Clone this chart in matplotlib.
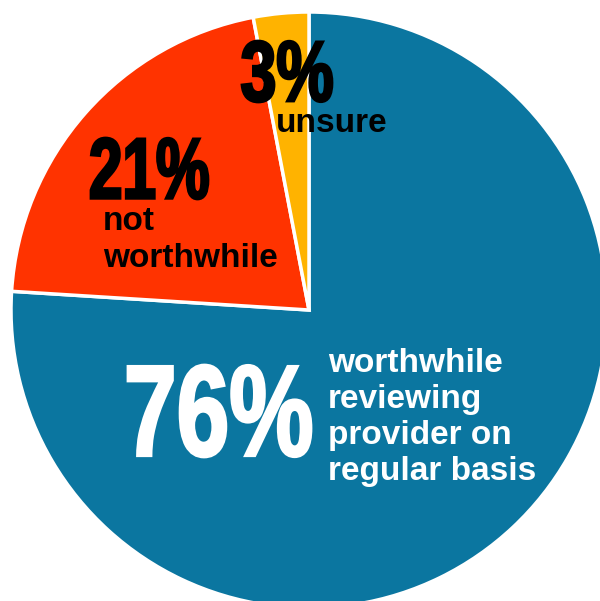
import matplotlib.pyplot as plt
from matplotlib.textpath import TextPath
from matplotlib.patches import PathPatch
from matplotlib.font_manager import FontProperties
from matplotlib.transforms import Affine2D

# Survey answers (percent)
shares = [76, 21, 3]
answers = ["worthwhile\nreviewing\nprovider on\nregular basis", "not\nworthwhile", "unsure"]
colors = ["#0B76A0", "#FF3300", "#FFB300"]

H = 601
fig = plt.figure(figsize=(6, 6.01), dpi=100, facecolor="white")
ax = fig.add_axes([0, 0, 1, 1])

ax.pie(shares, colors=colors, startangle=90, counterclock=False,
       center=(309, H - 310), radius=298,
       wedgeprops=dict(edgecolor="white", linewidth=2.5))
ax.set_xlim(0, 600)
ax.set_ylim(0, H)
ax.set_aspect("auto")
ax.axis("off")

big_font = FontProperties(family=["Liberation Sans Narrow", "Liberation Sans"], weight="bold")
small_font = FontProperties(family="Liberation Sans", weight="bold", size=24)


def big_number(text, left, top, width, height, color):
    # condensed, tall percentage drawn as a scaled text outline
    tp = TextPath((0, 0), text, size=100, prop=big_font)
    bb = tp.get_extents()
    tr = (Affine2D().translate(-bb.x0, -bb.y0)
          .scale(width / bb.width, height / bb.height)
          .translate(left, H - top - height))
    ax.add_patch(PathPatch(tr.transform_path(tp), facecolor=color,
                           edgecolor=color, linewidth=2))


def lines(text, left, first_baseline, step, color):
    for i, ln in enumerate(text.split("\n")):
        ax.text(left, H - (first_baseline + i * step), ln, fontproperties=small_font,
                color=color, ha="left", va="baseline")


big_number(f"{shares[0]}%", 128, 365, 183, 92, "white")
big_number(f"{shares[1]}%", 91, 138, 117, 61, "black")
big_number(f"{shares[2]}%", 242, 41, 90, 61, "black")

lines(answers[0], 328, 372, 36, "white")
lines(answers[1], 103, 230, 37, "black")
lines(answers[2], 276, 132, 36, "black")

fig.savefig("out.png", dpi=100, facecolor="white")
